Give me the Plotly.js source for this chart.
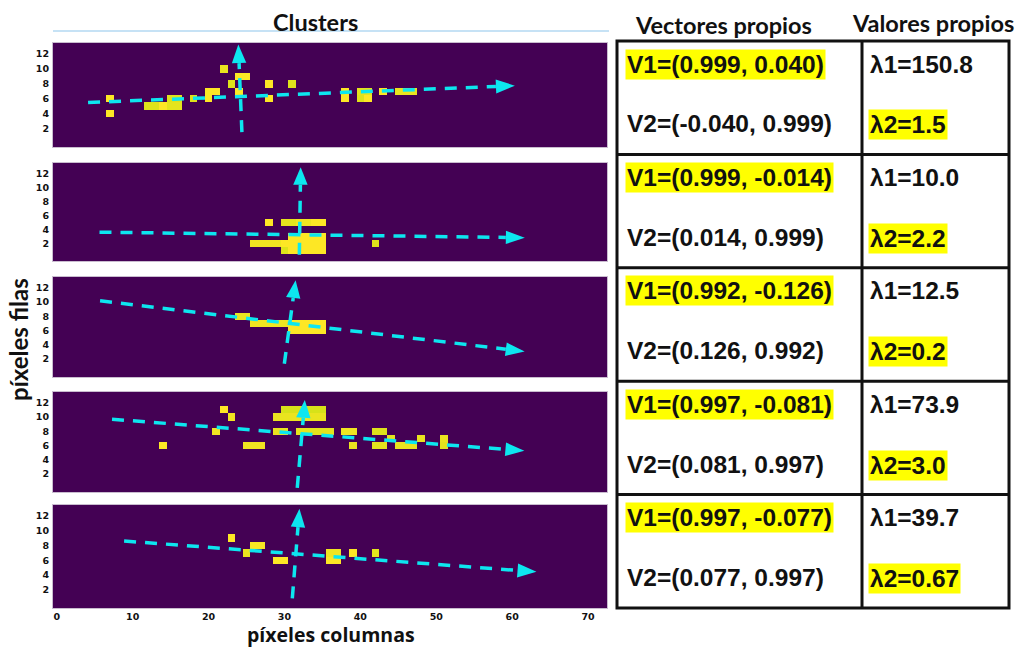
<!DOCTYPE html>
<html>
<head>
<meta charset="utf-8">
<script src="https://cdn.plot.ly/plotly-3.0.1.min.js"></script>
<style>
  html, body { margin: 0; padding: 0; background: #ffffff; }
  #chart { width: 1022px; height: 648px; }
</style>
</head>
<body>
<div id="chart"></div>
<script>
// Pixel grid of every cluster image
const nCols = 73;
const nRows = 14;

// Lit pixels per cluster: [row, firstCol, lastCol, intensity]
const cluster1 = [
  [4, 7, 7, 1.0],
  [5, 12, 13, 0.95], [5, 14, 14, 1.0], [5, 15, 16, 0.96],
  [6, 7, 7, 1.0], [6, 15, 16, 0.95], [6, 18, 18, 0.95], [6, 20, 20, 1.0], [6, 28, 28, 1.0],
  [6, 38, 38, 1.0], [6, 40, 40, 0.95], [6, 41, 41, 1.0],
  [7, 20, 21, 1.0], [7, 24, 24, 1.0], [7, 38, 38, 1.0], [7, 40, 41, 0.96], [7, 43, 43, 1.0], [7, 45, 47, 0.97],
  [8, 23, 23, 0.95], [8, 28, 28, 1.0], [8, 31, 31, 0.95],
  [9, 24, 25, 1.0],
  [10, 22, 22, 0.97]
];
const cluster2 = [
  [1, 30, 30, 0.95], [1, 31, 35, 1.0],
  [2, 26, 29, 0.98], [2, 30, 35, 1.0], [2, 42, 42, 0.95],
  [3, 31, 35, 1.0],
  [5, 28, 28, 1.0], [5, 30, 31, 0.96], [5, 32, 33, 0.98], [5, 34, 35, 1.0]
];
const cluster3 = [
  [6, 31, 35, 1.0],
  [7, 26, 30, 0.98], [7, 31, 35, 1.0],
  [8, 24, 25, 0.97]
];
const cluster4 = [
  [6, 14, 14, 1.0], [6, 25, 27, 0.98], [6, 39, 39, 0.97], [6, 42, 43, 0.96], [6, 45, 47, 0.97], [6, 51, 51, 0.96],
  [7, 44, 44, 0.96], [7, 48, 48, 0.97], [7, 51, 51, 0.97],
  [8, 21, 21, 0.98], [8, 29, 30, 0.97], [8, 32, 36, 0.96], [8, 38, 39, 0.98], [8, 42, 43, 0.95],
  [10, 23, 23, 0.98], [10, 29, 35, 0.97],
  [11, 22, 22, 1.0], [11, 30, 35, 0.94]
];
const cluster5 = [
  [6, 29, 30, 1.0], [6, 36, 37, 1.0],
  [7, 25, 25, 0.97], [7, 36, 37, 0.98], [7, 39, 39, 1.0], [7, 42, 42, 0.96],
  [8, 26, 27, 0.99],
  [9, 23, 23, 1.0]
];
const clusters = [cluster1, cluster2, cluster3, cluster4, cluster5];

// Principal axes of each cluster
const centroids = [[24.2, 6.3], [32.0, 3.25], [30.7, 7.0], [32.3, 7.65], [31.5, 6.86]];
const v1 = [[0.999, 0.040], [0.999, -0.014], [0.992, -0.126], [0.997, -0.081], [0.997, -0.077]];
const v2 = [[-0.040, 0.999], [0.014, 0.999], [0.126, 0.992], [0.081, 0.997], [0.077, 0.997]];
const lambda1 = ['150.8', '10.0', '12.5', '73.9', '39.7'];
const lambda2 = ['1.5', '2.2', '0.2', '3.0', '0.67'];
// How far each arrow reaches along its eigenvector: [behind centroid, ahead of centroid]
const reachV1 = [[20.1, 36.2], [26.4, 29.7], [25.2, 31.2], [25.1, 29.4], [22.7, 31.8]];
const reachV2 = [[4.8, 7.0], [2.85, 9.65], [5.7, 6.1], [7.6, 4.75], [6.06, 6.14]];

const xTicks = [0, 10, 20, 30, 40, 50, 60, 70];
const yTicks = [2, 4, 6, 8, 10, 12];

const W = 1022, H = 648;
const px = x => x / W;
const py = y => 1 - y / H;

const CYAN = '#0de6ef';
const panelBoxes = [[43, 147], [163, 261], [277, 377], [392, 492], [505, 608]];
const panelLeft = 53, panelRight = 607;

const traces = [];
const layout = {
  width: W, height: H,
  margin: { l: 0, r: 0, t: 0, b: 0 },
  paper_bgcolor: '#ffffff', plot_bgcolor: '#ffffff',
  showlegend: false,
  annotations: [], shapes: []
};

function gridFrom(runs) {
  const z = [];
  for (let r = 0; r < nRows; r++) z.push(new Array(nCols).fill(0));
  runs.forEach(([row, c0, c1, v]) => { for (let c = c0; c <= c1; c++) z[row][c] = v; });
  return z;
}

function addArrow(k, center, vec, reach) {
  const xa = 'x' + (k === 0 ? '' : k + 1), ya = 'y' + (k === 0 ? '' : k + 1);
  const headLen = 2.5, headHalf = 0.95;
  const [cx, cy] = center, [vx, vy] = vec;
  const sx = cx - reach[0] * vx, sy = cy - reach[0] * vy;
  const tx = cx + reach[1] * vx, ty = cy + reach[1] * vy;
  const bx = tx - headLen * vx, by = ty - headLen * vy;
  traces.push({
    type: 'scatter', mode: 'lines', x: [sx, bx], y: [sy, by], xaxis: xa, yaxis: ya,
    line: { color: CYAN, width: 3.5, dash: '12px,9px' }, hoverinfo: 'skip'
  });
  const nx = -vy, ny = vx;
  traces.push({
    type: 'scatter', mode: 'lines', fill: 'toself', fillcolor: CYAN,
    x: [tx, bx + headHalf * nx, bx - headHalf * nx, tx],
    y: [ty, by + headHalf * ny, by - headHalf * ny, ty],
    xaxis: xa, yaxis: ya, line: { width: 0, color: CYAN }, hoverinfo: 'skip'
  });
}

clusters.forEach((runs, k) => {
  const suffix = k === 0 ? '' : String(k + 1);
  const xs = Array.from({ length: nCols }, (_, i) => i);
  const ys = Array.from({ length: nRows }, (_, i) => i);
  traces.push({
    type: 'heatmap', z: gridFrom(runs), x: xs, y: ys,
    colorscale: 'Viridis', zmin: 0, zmax: 1, showscale: false,
    xaxis: 'x' + suffix, yaxis: 'y' + suffix, hoverinfo: 'skip'
  });
  addArrow(k, centroids[k], v1[k], reachV1[k]);
  addArrow(k, centroids[k], v2[k], reachV2[k]);

  const [top, bottom] = panelBoxes[k];
  const last = k === clusters.length - 1;
  layout['xaxis' + suffix] = {
    domain: [px(panelLeft), px(panelRight)], range: [-0.5, nCols - 0.5],
    anchor: 'y' + suffix, showgrid: false, zeroline: false,
    showline: true, mirror: true, linecolor: '#c9bccf', linewidth: 1,
    ticks: '', tickvals: xTicks, showticklabels: last,
    tickfont: { family: 'DejaVu Sans', size: 9.5, color: '#111', weight: 'bold' },
    automargin: false, fixedrange: true
  };
  layout['yaxis' + suffix] = {
    domain: [py(bottom), py(top)], range: [-0.5, nRows - 0.5],
    anchor: 'x' + suffix, showgrid: false, zeroline: false,
    showline: true, mirror: true, linecolor: '#c9bccf', linewidth: 1,
    ticks: '', tickvals: yTicks, ticklabelstandoff: 1,
    tickfont: { family: 'DejaVu Sans', size: 9.5, color: '#111', weight: 'bold' },
    automargin: false, fixedrange: true
  };
});

const headFont = { family: 'Lato, "Open Sans", sans-serif', size: 23.5, color: '#111', weight: 'bold' };
function label(text, x, y, font, extra) {
  layout.annotations.push(Object.assign({
    text, xref: 'paper', yref: 'paper', x: px(x), y: py(y),
    xanchor: 'center', yanchor: 'middle', showarrow: false, font
  }, extra || {}));
}

// Headers and axis titles
label('Clusters', 315, 22, headFont);
label('Vectores propios', 723, 25, headFont);
label('Valores propios', 933, 23, headFont);
label('píxeles columnas', 331, 634,
  { family: '"Open Sans", Lato, sans-serif', size: 19.5, color: '#111', weight: 'bold' }, { borderpad: 0 });
label('píxeles filas', 18, 340, Object.assign({}, headFont, { size: 24 }), { textangle: -90, borderpad: 0 });

layout.shapes.push({ type: 'line', xref: 'paper', yref: 'paper',
  x0: px(53), x1: px(609), y0: py(31), y1: py(31), line: { color: '#c6e2f5', width: 2 } });

// Table of eigenvectors and eigenvalues
const tableLeft = 617, tableMid = 862, tableRight = 1009, tableTop = 41, rowH = 113.4;
const fmt = v => v.toFixed(3);
const cellFont = { family: '"Liberation Sans", Arial, sans-serif', size: 24.5, color: '#111', weight: 'bold' };
const HL = '#ffff00';
clusters.forEach((_, k) => {
  const top = tableTop + k * rowH;
  label('V1=(' + fmt(v1[k][0]) + ', ' + fmt(v1[k][1]) + ')', 625, top + 23, cellFont,
    { xanchor: 'left', bgcolor: HL, borderpad: 1 });
  label('V2=(' + fmt(v2[k][0]) + ', ' + fmt(v2[k][1]) + ')', 625, top + 83, cellFont,
    { xanchor: 'left', borderpad: 1 });
  label('λ1=' + lambda1[k], 868, top + 23, cellFont, { xanchor: 'left', borderpad: 1 });
  label('λ2=' + lambda2[k], 868, top + 84, cellFont,
    { xanchor: 'left', bgcolor: HL, borderpad: 1 });
});
const tableBottom = tableTop + clusters.length * rowH;
const border = { color: '#111', width: 3 };
layout.shapes.push({ type: 'rect', xref: 'paper', yref: 'paper',
  x0: px(tableLeft), x1: px(tableRight), y0: py(tableBottom), y1: py(tableTop), line: border });
layout.shapes.push({ type: 'line', xref: 'paper', yref: 'paper',
  x0: px(tableMid), x1: px(tableMid), y0: py(tableBottom), y1: py(tableTop), line: border });
for (let k = 1; k < clusters.length; k++) {
  const y = tableTop + k * rowH;
  layout.shapes.push({ type: 'line', xref: 'paper', yref: 'paper',
    x0: px(tableLeft), x1: px(tableRight), y0: py(y), y1: py(y), line: border });
}

Plotly.newPlot('chart', traces, layout, { displayModeBar: false, staticPlot: true });
</script>
</body>
</html>
